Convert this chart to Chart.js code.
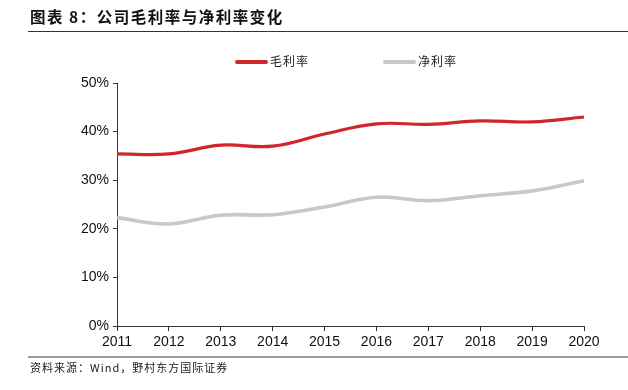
<!DOCTYPE html>
<html>
<head>
<meta charset="utf-8">
<script src="https://cdn.jsdelivr.net/npm/chart.js@4"></script>
<style>
  html, body { margin: 0; padding: 0; background: #fff; }
  #wrap { position: relative; width: 628px; height: 390px; overflow: hidden; }
  #c { position: absolute; left: 0; top: 0; }
  .title { position: absolute; left: 30px; top: 5px; font: bold 15.5px "Noto Sans CJK SC", sans-serif; color: #111; letter-spacing: 1.5px; white-space: nowrap; }
  .rule1 { position: absolute; left: 28px; top: 31px; width: 600px; height: 1px; background: #333; }
  .rule2 { position: absolute; left: 28px; top: 356px; width: 600px; height: 2px; background: #999; }
  .foot { position: absolute; left: 30px; top: 359px; font: 11px "Noto Sans CJK SC", sans-serif; color: #222; letter-spacing: 1px; white-space: nowrap; }
  .leg { position: absolute; top: 52px; font: 12px "Noto Sans CJK SC", sans-serif; color: #222; letter-spacing: 1px; white-space: nowrap; }
  .leg span.sw { display: inline-block; width: 33px; height: 4px; border-radius: 2px; vertical-align: middle; margin-right: 2px; position: relative; top: -1px; }
</style>
</head>
<body>
<div id="wrap">
  <canvas id="c" width="628" height="390"></canvas>
  <div class="title">图表 8：公司毛利率与净利率变化</div>
  <div class="rule1"></div>
  <div class="leg" style="left:235px"><span class="sw" style="background:#D0262A"></span>毛利率</div>
  <div class="leg" style="left:383px"><span class="sw" style="background:#C8C8C8"></span>净利率</div>
  <div class="rule2"></div>
  <div class="foot">资料来源：Wind，野村东方国际证券</div>
</div>
<script>
const years = ['2011','2012','2013','2014','2015','2016','2017','2018','2019','2020'];
const grossMargin = [35.4, 35.4, 37.2, 37.0, 39.5, 41.6, 41.5, 42.2, 42.0, 43.0];
const netMargin = [22.3, 21.0, 22.8, 22.9, 24.5, 26.5, 25.8, 26.8, 27.8, 29.9];
const seriesNames = ['毛利率', '净利率'];

new Chart(document.getElementById('c'), {
  type: 'line',
  data: {
    labels: years,
    datasets: [
      { label: seriesNames[0], data: grossMargin, borderColor: '#D0262A', backgroundColor: '#D0262A', borderWidth: 3.2, pointRadius: 0, tension: 0.4, fill: false },
      { label: seriesNames[1], data: netMargin, borderColor: '#C8C8C8', backgroundColor: '#C8C8C8', borderWidth: 3.6, pointRadius: 0, tension: 0.4, fill: false }
    ]
  },
  options: {
    responsive: false,
    animation: false,
    devicePixelRatio: 1,
    layout: { padding: { left: 0, top: 83, right: 44, bottom: 0 } },
    plugins: { legend: { display: false }, tooltip: { enabled: false } },
    scales: {
      x: {
        offset: false,
        grid: { drawOnChartArea: false, drawTicks: true, tickLength: 5, color: '#333' },
        border: { display: true, color: '#333', width: 1 },
        ticks: { color: '#111', font: { family: '"Liberation Sans", Arial, sans-serif', size: 14 }, padding: 3, maxRotation: 0, autoSkip: false },
        afterFit: s => { s.height = 64; }
      },
      y: {
        min: 0, max: 50,
        grid: { drawOnChartArea: false, drawTicks: true, tickLength: 4, color: '#333' },
        border: { display: true, color: '#333', width: 1 },
        ticks: { stepSize: 10, color: '#111', font: { family: '"Liberation Sans", Arial, sans-serif', size: 14 }, padding: 4, callback: v => v + '%' },
        afterFit: s => { s.width = 117; }
      }
    }
  }
});
</script>
</body>
</html>
